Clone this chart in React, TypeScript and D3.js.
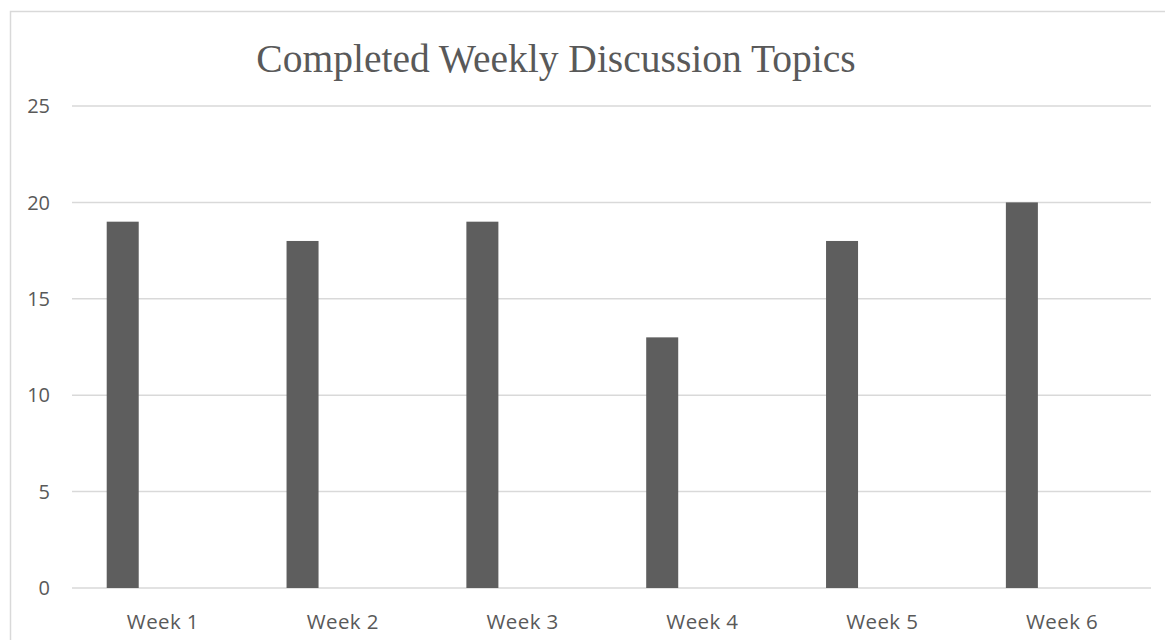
import React from "react";
import * as d3 from "d3";

const categories: string[] = ["Week 1", "Week 2", "Week 3", "Week 4", "Week 5", "Week 6"];
const values: number[] = [19, 18, 19, 13, 18, 20];
const yTicks: number[] = [0, 5, 10, 15, 20, 25];
const title = "Completed Weekly Discussion Topics";

export default function App() {
  const W = 1165;
  const H = 640;
  const left = 72;
  const right = 1151;
  const top = 106;
  const bottom = 588;

  const x = d3.scaleBand<string>().domain(categories).range([left, right]).padding(0);
  const y = d3.scaleLinear().domain([0, 25]).range([bottom, top]);
  const bw = x.bandwidth();
  const textColor = "#595959";
  const sans = "'Open Sans', 'Noto Sans', sans-serif";

  return (
    <svg width={W} height={H} style={{ position: "absolute", left: 0, top: 0, background: "#fff" }}>
      <rect x={0} y={0} width={W} height={H} fill="#fff" />
      <rect x={10.5} y={11.5} width={W + 10} height={H + 10} fill="none" stroke="#d9d9d9" strokeWidth={1.5} />
      <text
        x={556}
        y={72}
        textAnchor="middle"
        fontFamily="'Liberation Serif', 'Times New Roman', serif"
        fontSize={39.5}
        fill={textColor}
      >
        {title}
      </text>
      {yTicks.map((t) => (
        <g key={t}>
          <line x1={left} x2={right} y1={y(t)} y2={y(t)} stroke="#d9d9d9" strokeWidth={1.5} />
          <text
            x={50}
            y={y(t)}
            dy="0.36em"
            textAnchor="end"
            fontFamily={sans}
            fontSize={20}
            fill={textColor}
          >
            {t}
          </text>
        </g>
      ))}
      {categories.map((c, i) => (
        <rect
          key={c}
          x={(x(c) as number) + bw * 0.193}
          y={y(values[i])}
          width={bw * 0.178}
          height={y(0) - y(values[i])}
          fill="#5e5e5e"
        />
      ))}
      {categories.map((c) => (
        <text
          key={c}
          x={(x(c) as number) + bw / 2 + 1}
          y={629}
          textAnchor="middle"
          fontFamily={sans}
          fontSize={20.5}
          letterSpacing={0.4}
          fill={textColor}
        >
          {c}
        </text>
      ))}
    </svg>
  );
}
